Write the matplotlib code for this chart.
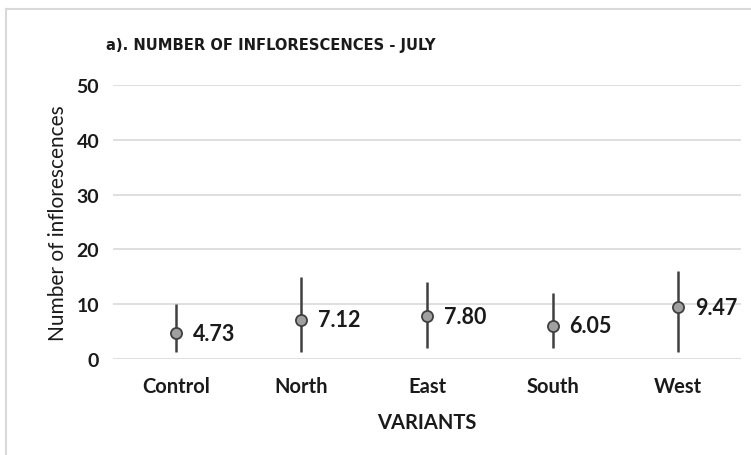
import matplotlib
matplotlib.use("Agg")
import matplotlib.pyplot as plt
from matplotlib.lines import Line2D
from matplotlib import font_manager

categories = ["Control", "North", "East", "South", "West"]
means = [4.73, 7.12, 7.80, 6.05, 9.47]
lows = [1.2, 1.2, 2.0, 2.0, 1.2]
highs = [10.0, 15.0, 14.0, 12.0, 16.0]
yticks = [0, 10, 20, 30, 40, 50]

plt.rcParams['font.family'] = ['Lato', 'DejaVu Sans']

# title font: prefer a condensed face (like Calibri's narrow look) if available
title_kw = dict(family=['Lato'], fontsize=12.5)
try:
    fp = font_manager.FontProperties(family='DejaVu Sans', stretch='condensed', weight='bold')
    path = font_manager.findfont(fp, fallback_to_default=False)
    if 'Condensed' in path:
        title_kw = dict(family=['DejaVu Sans'], stretch='condensed', fontsize=11.8)
except Exception:
    pass

fig = plt.figure(figsize=(7.51, 4.56), dpi=100)
ax = fig.add_axes([0.1505, 0.2105, 0.8362, 0.6009])

x = list(range(len(categories)))
for xi, lo, hi in zip(x, lows, highs):
    ax.vlines(xi, lo, hi, color="#404040", lw=1.8, zorder=3)
ax.plot(x, means, 'o', ms=8, mfc="#a0a0a0", mec="#404040", mew=1.3, ls='none', zorder=4)
for xi, m in zip(x, means):
    ax.annotate(f"{m:.2f}", (xi, m), xytext=(12, 0), textcoords='offset points',
                ha='left', va='center', fontsize=15.5, fontweight='bold', color='#1a1a1a')

ax.set_xlim(-0.5, 4.5)
ax.set_ylim(0, 50)
ax.set_yticks(yticks)
ax.set_yticklabels([str(t) for t in yticks], fontsize=14, fontweight='bold', color='#1a1a1a')
ax.set_xticks(x)
ax.set_xticklabels(categories, fontsize=14.5, fontweight='bold', color='#1a1a1a')
ax.tick_params(length=0, pad=10)
ax.tick_params(axis='x', pad=12)
ax.grid(axis='y', color='#d9d9d9', lw=1.2)
ax.set_axisbelow(True)
for s in ax.spines.values():
    s.set_visible(False)

ax.set_ylabel("Number of inflorescences", fontsize=15, color='#1a1a1a', labelpad=6)
ax.set_xlabel("VARIANTS", fontsize=14.5, fontweight='bold', color='#1a1a1a', labelpad=12)
fig.text(0.361, 0.9, "a). NUMBER OF INFLORESCENCES - JULY", ha='center', va='center',
         fontweight='bold', color='#1a1a1a', **title_kw)

# outer chart border (left and top visible)
fig.add_artist(Line2D([6/751, 6/751], [0, 1 - 10/456], transform=fig.transFigure, color='#d9d9d9', lw=1.5))
fig.add_artist(Line2D([6/751, 1], [1 - 10/456, 1 - 10/456], transform=fig.transFigure, color='#d9d9d9', lw=1.5))

fig.savefig("out.png", dpi=100)
